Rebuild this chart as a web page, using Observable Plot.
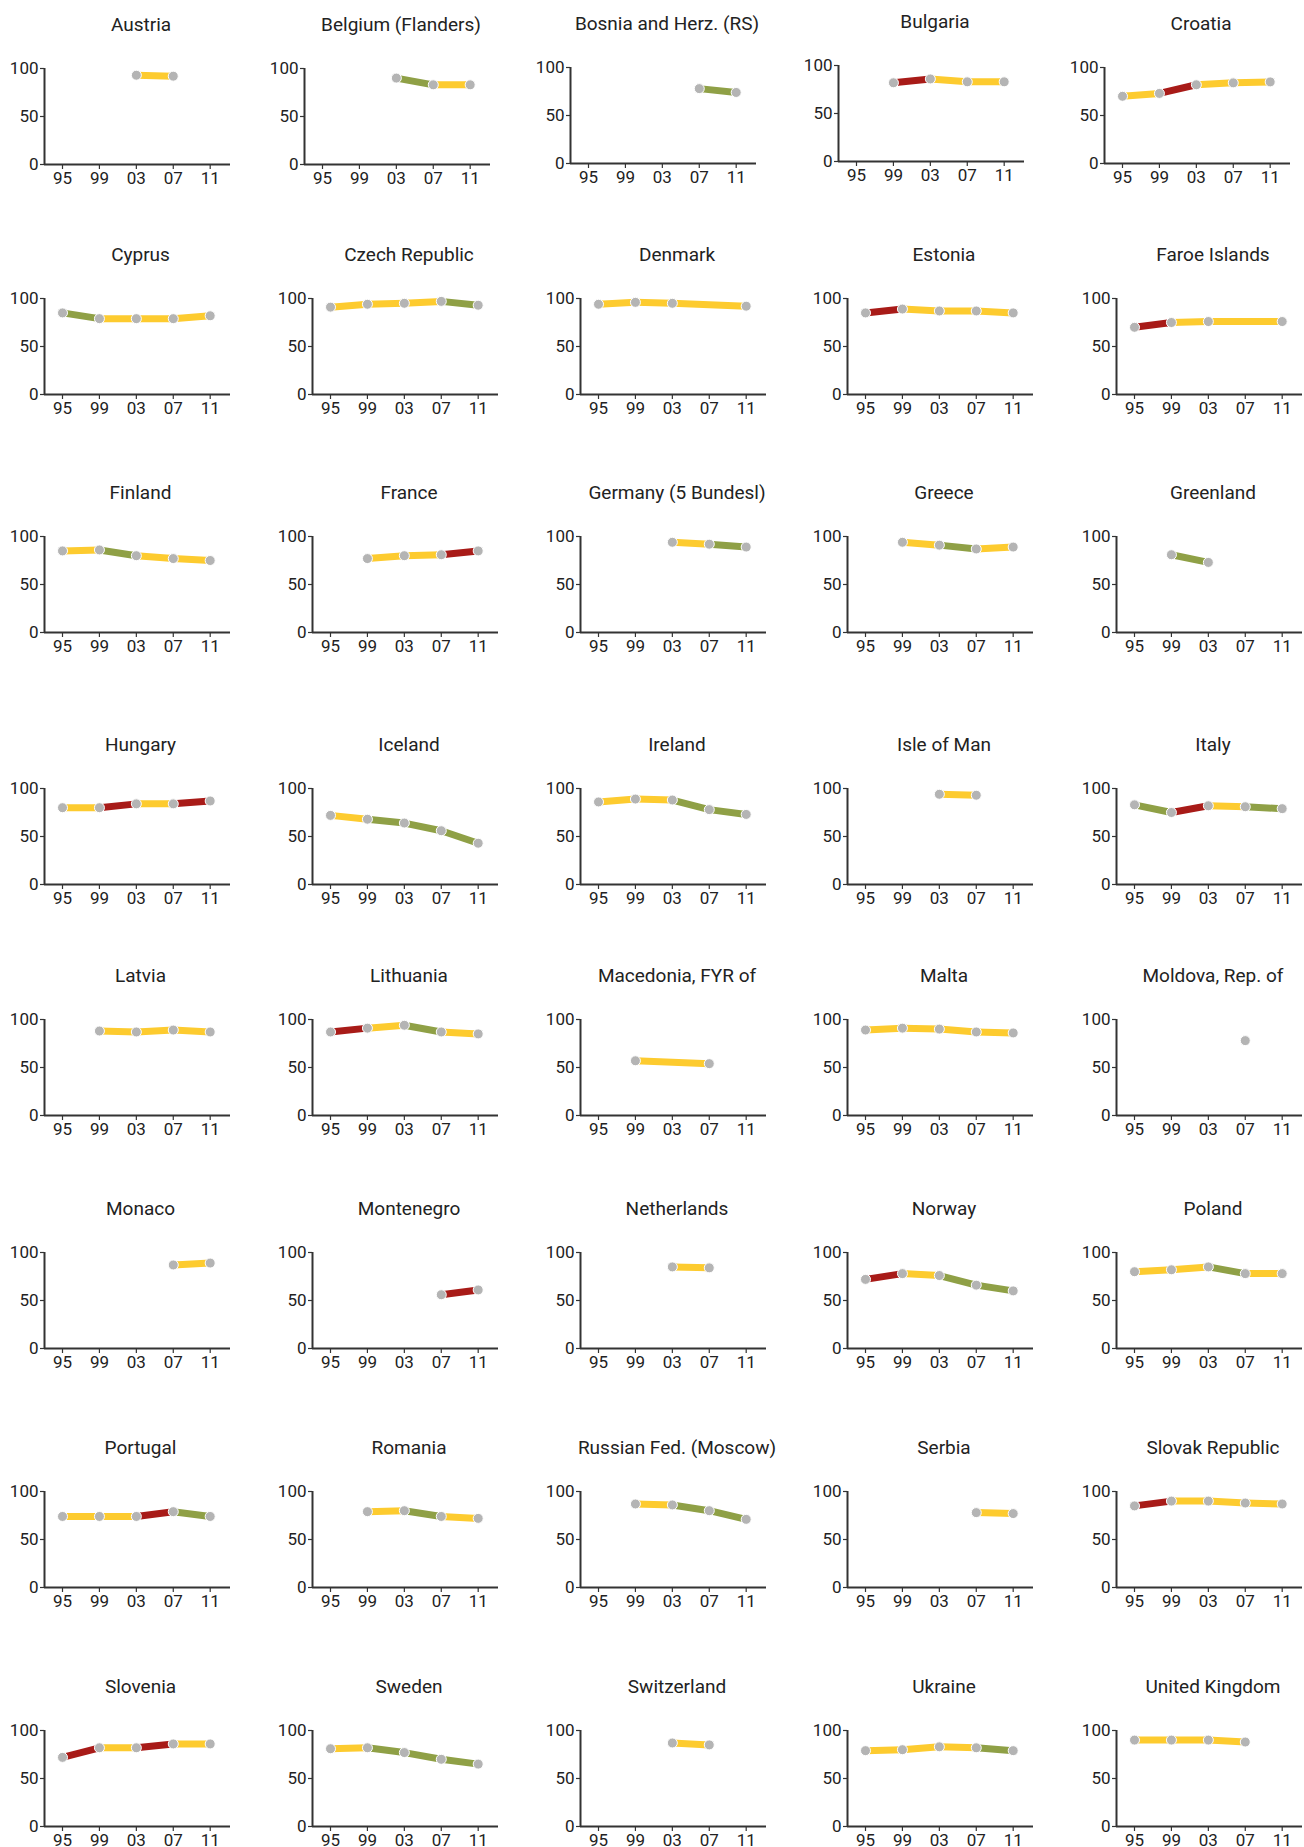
<!DOCTYPE html>
<html><head><meta charset="utf-8">
<script src="https://cdn.jsdelivr.net/npm/d3@7"></script>
<script src="https://cdn.jsdelivr.net/npm/@observablehq/plot@0.6"></script>
<style>
body{margin:0;background:#fff;}
#chart{position:relative;width:1304px;height:1847px;background:#fff;font-family:Roboto,sans-serif;color:#222;overflow:hidden;}
.title{position:absolute;text-align:center;font-size:19px;transform:translate(-50%,-50%);white-space:nowrap;color:#222;}
svg{position:absolute;overflow:visible;}
</style></head><body><div id="chart"></div>
<script>
const countries = ["Austria","Belgium (Flanders)","Bosnia and Herz. (RS)","Bulgaria","Croatia",
"Cyprus","Czech Republic","Denmark","Estonia","Faroe Islands",
"Finland","France","Germany (5 Bundesl)","Greece","Greenland",
"Hungary","Iceland","Ireland","Isle of Man","Italy",
"Latvia","Lithuania","Macedonia, FYR of","Malta","Moldova, Rep. of",
"Monaco","Montenegro","Netherlands","Norway","Poland",
"Portugal","Romania","Russian Fed. (Moscow)","Serbia","Slovak Republic",
"Slovenia","Sweden","Switzerland","Ukraine","United Kingdom"];
const years = [1995, 1999, 2003, 2007, 2011];
const tickLabels = ["95","99","03","07","11"];
const yTicks = [0, 50, 100];
// values per country for 1995, 1999, 2003, 2007, 2011 (null = no data)
const values = [
[null,null,93,92,null],[null,null,90,83,83],[null,null,null,78,74],[null,82,86,83,83],[70,73,82,84,85],
[85,79,79,79,82],[91,94,95,97,93],[94,96,95,null,92],[85,89,87,87,85],[70,75,76,null,76],
[85,86,80,77,75],[null,77,80,81,85],[null,null,94,92,89],[null,94,91,87,89],[null,81,73,null,null],
[80,80,84,84,87],[72,68,64,56,43],[86,89,88,78,73],[null,null,94,93,null],[83,75,82,81,79],
[null,88,87,89,87],[87,91,94,87,85],[null,57,null,54,null],[89,91,90,87,86],[null,null,null,78,null],
[null,null,null,87,89],[null,null,null,56,61],[null,null,85,84,null],[72,78,76,66,60],[80,82,85,78,78],
[74,74,74,79,74],[null,79,80,74,72],[null,87,86,80,71],[null,null,null,78,77],[85,90,90,88,87],
[72,82,82,86,86],[81,82,77,70,65],[null,null,87,85,null],[79,80,83,82,79],[90,90,90,88,null]
];
// change between consecutive observations: "+" increase, "=" no significant change, "-" decrease
const changes = [
"=","-=","-","+==","=+==",
"-===","===-","===","+===","+==",
"=-==","==+","=-","=-=","-",
"=+=+","=---","==--","=","-+=-",
"===","+=-=","=","====","",
"=","+","=","+=--","==-=",
"==+-","=-=","=--","=","+===",
"+=+=","=---","=","===-","==="
];
const changeKeys = ["+","=","-"];
const changeColors = ["#a81b18","#fdcb2f","#8fa046"];

// layout
const xDomain = [1993.05, 2013.2];
const row1X = [44, 304, 570, 838, 1104];
const row1Y = [68, 68, 67, 64.5, 67];
const colX = [43.5, 312, 580, 847, 1116];
const rowY = [67, 298.3, 535.7, 788.3, 1019, 1251.7, 1491, 1730];
const ML = 44, MR = 8, MT = 14, MB = 34, PH = 96, PW = 186;

const chart = document.getElementById("chart");
countries.forEach((name, i) => {
  const row = Math.floor(i / 5), col = i % 5;
  const ax = row === 0 ? row1X[col] : colX[col];
  const y100 = row === 0 ? row1Y[col] : rowY[row];
  const pts = [];
  values[i].forEach((v, j) => { if (v != null) pts.push({x: years[j], y: v}); });
  const segs = [];
  for (let k = 1; k < pts.length; k++) {
    segs.push({x1: pts[k-1].x, y1: pts[k-1].y, x2: pts[k].x, y2: pts[k].y, c: changes[i][k-1]});
  }
  const svg = Plot.plot({
    width: ML + PW + MR, height: MT + PH + MB,
    marginLeft: ML, marginRight: MR, marginTop: MT, marginBottom: MB,
    x: {domain: xDomain}, y: {domain: [0, 100]},
    color: {domain: changeKeys, range: changeColors},
    style: {fontFamily: "Roboto, sans-serif", fontSize: "17px", color: "#222", background: "transparent"},
    marks: [
      Plot.axisY({ticks: yTicks, tickSize: 4, tickPadding: 2, label: null, fontSize: 17, stroke: "#333", strokeWidth: 1.2}),
      Plot.axisX({ticks: years, tickFormat: d => tickLabels[years.indexOf(d)], tickSize: 5, tickPadding: 2, label: null, fontSize: 17, stroke: "#333", strokeWidth: 1.2}),
      Plot.ruleY([0], {stroke: "#333", strokeWidth: 2}),
      Plot.ruleX([xDomain[0]], {y1: 0, y2: 100, stroke: "#333", strokeWidth: 2}),
      Plot.link(segs, {x1: "x1", y1: "y1", x2: "x2", y2: "y2", stroke: "white", strokeWidth: 9.5}),
      Plot.link(segs, {x1: "x1", y1: "y1", x2: "x2", y2: "y2", stroke: "c", strokeWidth: 7}),
      Plot.dot(pts, {x: "x", y: "y", r: 5, fill: "#b4b4b4", stroke: "white", strokeWidth: 1})
    ]
  });
  svg.style.left = (ax - ML) + "px";
  svg.style.top = (y100 - MT) + "px";
  chart.appendChild(svg);
  const t = document.createElement("div");
  t.className = "title";
  t.textContent = name;
  t.style.left = (ax + 97) + "px";
  t.style.top = (y100 - 44) + "px";
  chart.appendChild(t);
});
</script></body></html>
